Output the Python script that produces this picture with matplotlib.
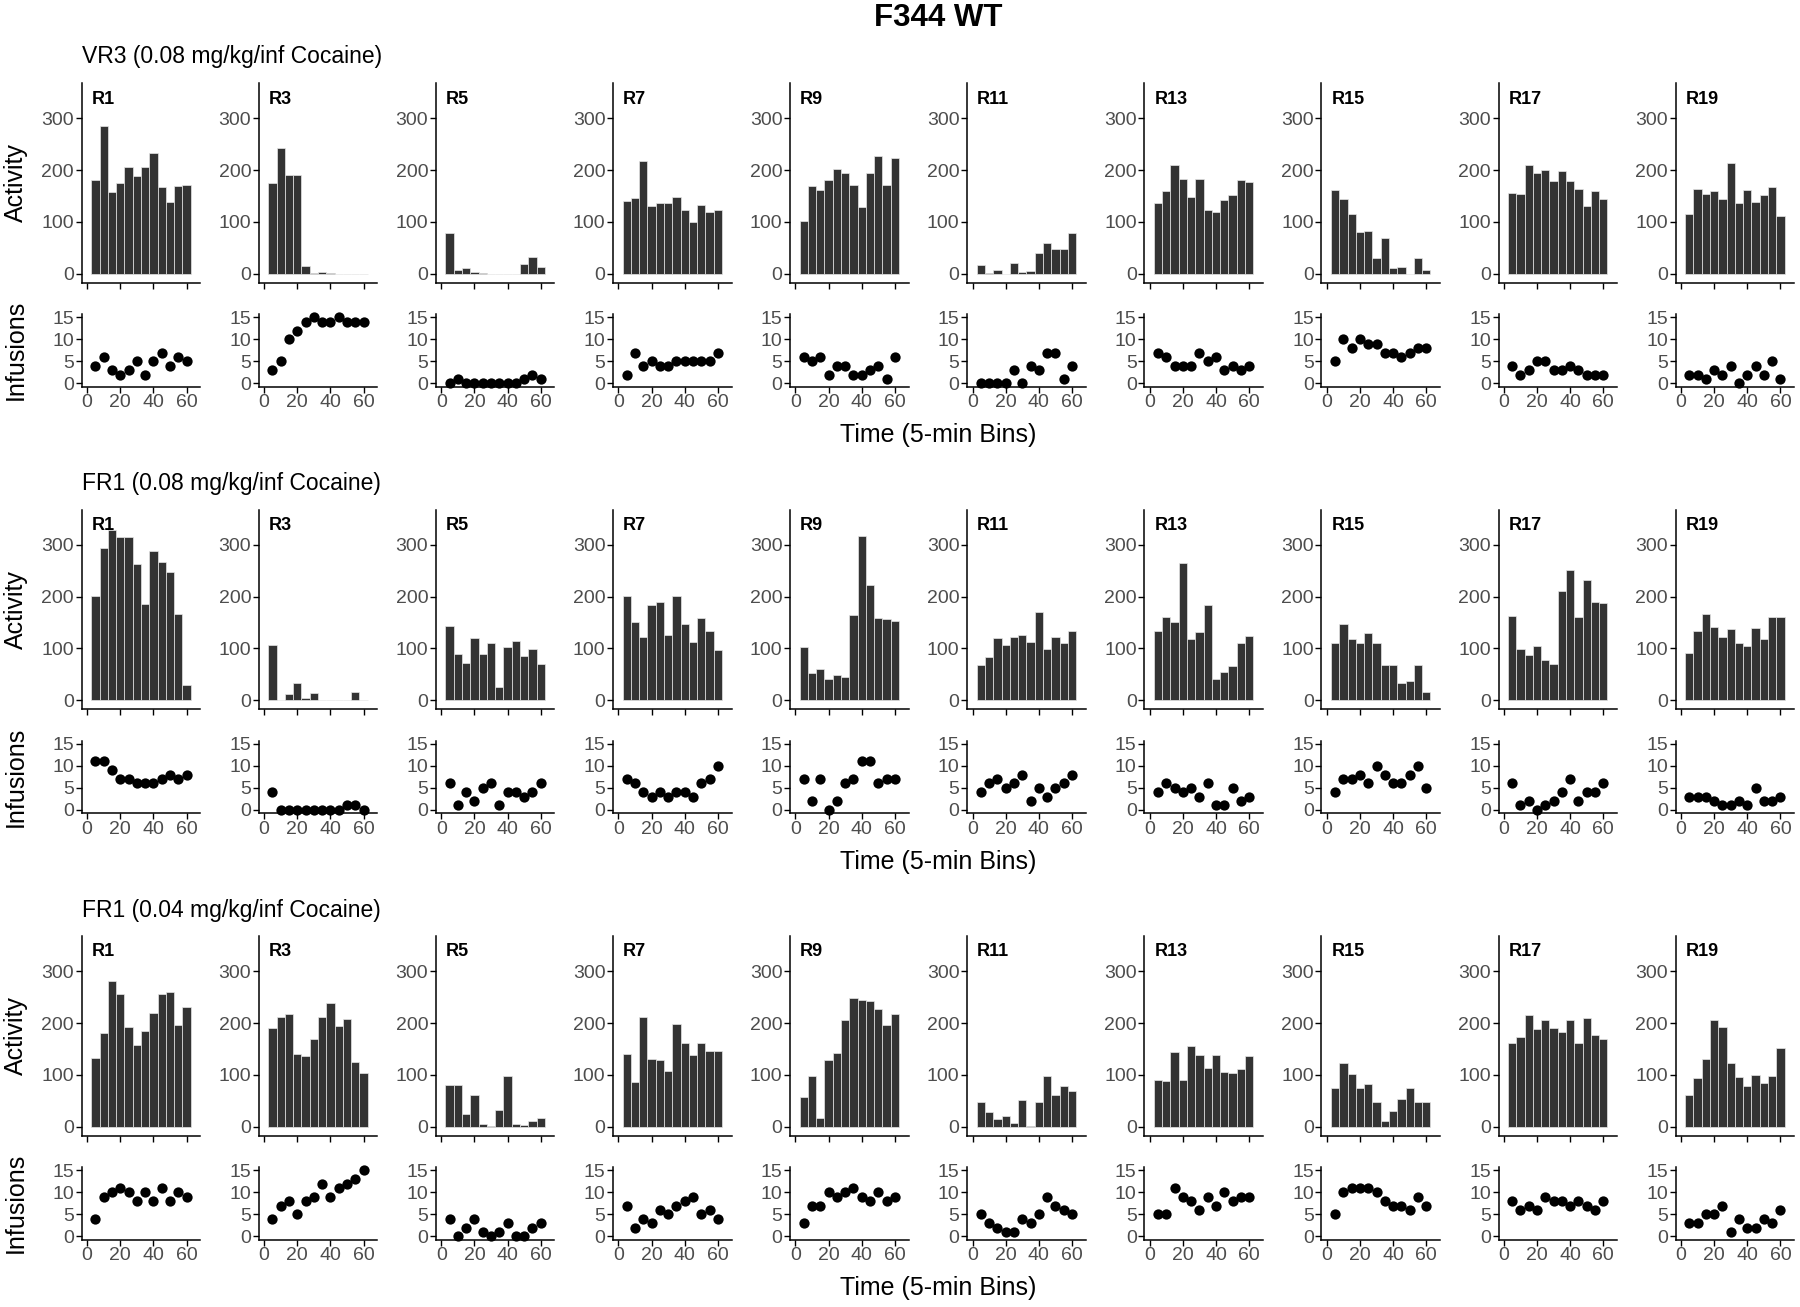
import matplotlib
matplotlib.use("Agg")
import matplotlib.pyplot as plt

plt.rcParams['font.family'] = ['Liberation Sans', 'DejaVu Sans']

# ---------------- data ----------------
time_bins = [5, 10, 15, 20, 25, 30, 35, 40, 45, 50, 55, 60]
rats = ['R1', 'R3', 'R5', 'R7', 'R9', 'R11', 'R13', 'R15', 'R17', 'R19']
section_titles = ['VR3 (0.08 mg/kg/inf Cocaine)',
                  'FR1 (0.08 mg/kg/inf Cocaine)',
                  'FR1 (0.04 mg/kg/inf Cocaine)']
main_title = 'F344 WT'
x_title = 'Time (5-min Bins)'
act_title = 'Activity'
inf_title = 'Infusions'

vr3_008_activity = [
    [180, 285, 158, 175, 205, 188, 205, 232, 167, 138, 170, 172],
    [175, 243, 191, 191, 15, 2, 3, 1, 0, 0, 0, 0],
    [78, 7, 10, 3, 1, 0, 0, 0, 0, 18, 32, 12],
    [140, 146, 217, 130, 137, 137, 148, 122, 100, 133, 119, 123],
    [102, 170, 161, 180, 202, 194, 172, 129, 194, 228, 171, 223],
    [17, 1, 7, 0, 20, 3, 6, 40, 60, 47, 48, 78],
    [137, 160, 209, 183, 148, 182, 122, 119, 143, 151, 180, 177],
    [161, 145, 115, 81, 83, 30, 68, 10, 12, 0, 30, 7],
    [155, 153, 209, 194, 201, 178, 198, 178, 164, 131, 159, 145],
    [116, 163, 153, 159, 145, 213, 137, 161, 139, 151, 167, 111],
]
vr3_008_infusions = [
    [4, 6, 3, 2, 3, 5, 2, 5, 7, 4, 6, 5],
    [3, 5, 10, 12, 14, 15, 14, 14, 15, 14, 14, 14],
    [0, 1, 0, 0, 0, 0, 0, 0, 0, 1, 2, 1],
    [2, 7, 4, 5, 4, 4, 5, 5, 5, 5, 5, 7],
    [6, 5, 6, 2, 4, 4, 2, 2, 3, 4, 1, 6],
    [0, 0, 0, 0, 3, 0, 4, 3, 7, 7, 1, 4],
    [7, 6, 4, 4, 4, 7, 5, 6, 3, 4, 3, 4],
    [5, 10, 8, 10, 9, 9, 7, 7, 6, 7, 8, 8],
    [4, 2, 3, 5, 5, 3, 3, 4, 3, 2, 2, 2],
    [2, 2, 1, 3, 2, 4, 0, 2, 4, 2, 5, 1],
]
fr1_008_activity = [
    [201, 293, 328, 315, 315, 262, 185, 287, 266, 247, 166, 29],
    [107, 1, 12, 34, 4, 13, 0, 1, 0, 1, 15, 0],
    [143, 89, 72, 120, 90, 111, 26, 102, 114, 86, 99, 70],
    [201, 150, 122, 183, 189, 125, 201, 147, 113, 159, 134, 97],
    [102, 53, 61, 40, 48, 45, 165, 317, 222, 159, 157, 152],
    [68, 83, 120, 107, 121, 126, 112, 170, 99, 121, 110, 134],
    [134, 161, 151, 264, 118, 131, 183, 40, 55, 66, 111, 124],
    [111, 147, 118, 110, 130, 110, 67, 68, 34, 37, 68, 15],
    [163, 99, 87, 105, 77, 69, 211, 251, 161, 232, 190, 188],
    [91, 133, 167, 142, 121, 138, 110, 104, 139, 118, 161, 161],
]
fr1_008_infusions = [
    [11, 11, 9, 7, 7, 6, 6, 6, 7, 8, 7, 8],
    [4, 0, 0, 0, 0, 0, 0, 0, 0, 1, 1, 0],
    [6, 1, 4, 2, 5, 6, 1, 4, 4, 3, 4, 6],
    [7, 6, 4, 3, 4, 3, 4, 4, 3, 6, 7, 10],
    [7, 2, 7, 0, 2, 6, 7, 11, 11, 6, 7, 7],
    [4, 6, 7, 5, 6, 8, 2, 5, 3, 5, 6, 8],
    [4, 6, 5, 4, 5, 3, 6, 1, 1, 5, 2, 3],
    [4, 7, 7, 8, 6, 10, 8, 6, 6, 8, 10, 5],
    [6, 1, 2, 0, 1, 2, 4, 7, 2, 4, 4, 6],
    [3, 3, 3, 2, 1, 1, 2, 1, 5, 2, 2, 3],
]
fr1_004_activity = [
    [133, 181, 281, 256, 193, 158, 185, 220, 256, 259, 196, 231],
    [191, 212, 218, 141, 136, 170, 212, 239, 195, 207, 125, 103],
    [80, 80, 25, 62, 5, 2, 33, 98, 5, 4, 11, 17],
    [140, 86, 211, 131, 128, 108, 199, 162, 138, 161, 147, 147],
    [58, 98, 17, 128, 143, 206, 248, 244, 243, 228, 196, 218],
    [48, 28, 14, 21, 7, 52, 2, 47, 98, 61, 78, 68],
    [90, 89, 145, 90, 155, 139, 114, 138, 106, 103, 112, 136],
    [75, 123, 101, 74, 83, 47, 11, 31, 53, 75, 47, 48],
    [162, 174, 215, 189, 206, 191, 183, 206, 161, 209, 176, 170],
    [61, 93, 130, 205, 192, 122, 95, 79, 100, 84, 98, 151],
]
fr1_004_infusions = [
    [4, 9, 10, 11, 10, 8, 10, 8, 11, 8, 10, 9],
    [4, 7, 8, 5, 8, 9, 12, 9, 11, 12, 13, 15],
    [4, 0, 2, 4, 1, 0, 1, 3, 0, 0, 2, 3],
    [7, 2, 4, 3, 6, 5, 7, 8, 9, 5, 6, 4],
    [3, 7, 7, 10, 9, 10, 11, 9, 8, 10, 8, 9],
    [5, 3, 2, 1, 1, 4, 3, 5, 9, 7, 6, 5],
    [5, 5, 11, 9, 8, 6, 9, 7, 10, 8, 9, 9],
    [5, 10, 11, 11, 11, 10, 8, 7, 7, 6, 9, 7],
    [8, 6, 7, 6, 9, 8, 8, 7, 8, 7, 6, 8],
    [3, 3, 5, 5, 7, 1, 4, 2, 2, 4, 3, 6],
]

activity_sets = [vr3_008_activity, fr1_008_activity, fr1_004_activity]
infusion_sets = [vr3_008_infusions, fr1_008_infusions, fr1_004_infusions]

# ---------------- layout ----------------
W, H = 1800, 1307
DPI = 100
fig = plt.figure(figsize=(W / DPI, H / DPI), dpi=DPI)

TICK_COL = '#4d4d4d'
TICK_SIZE = 14
BAR_COL = '#333333'


def add_ax(left, top, width, height):
    return fig.add_axes([left / W, 1 - (top + height) / H, width / W, height / H])


def style(ax):
    for s in ('top', 'right'):
        ax.spines[s].set_visible(False)
    for s in ('left', 'bottom'):
        ax.spines[s].set_linewidth(1.1)
        ax.spines[s].set_color('black')
    ax.tick_params(direction='out', length=4, width=1.0, color='black',
                   labelcolor=TICK_COL, labelsize=TICK_SIZE, pad=1.5)
    ax.set_facecolor('none')


SEC_DY = 426.5
COL_DX = 177.1
PANEL_W = 118.5

fig.text(938 / W, 1 - 18 / H, main_title, ha='center', va='center',
         fontsize=22.5, fontweight='bold')

for s in range(3):
    dy = SEC_DY * s
    fig.text(82 / W, 1 - (57 + dy) / H, section_titles[s], ha='left', va='center',
             fontsize=16.5)
    fig.text(938 / W, 1 - (435 + dy) / H, x_title, ha='center', va='center',
             fontsize=18)
    fig.text(16 / W, 1 - (183 + dy) / H, act_title, ha='center', va='center',
             rotation=90, fontsize=18)
    fig.text(16 / W, 1 - (350 + dy) / H, inf_title, ha='center', va='center',
             rotation=90, fontsize=18)

    for j, rat in enumerate(rats):
        left = 81.7 + COL_DX * j
        # activity panel
        ax = add_ax(left, 83.3 + dy, PANEL_W, 199.4)
        ax.bar(time_bins, activity_sets[s][j], width=5, color=BAR_COL,
               edgecolor='#e6e6e6', linewidth=0.5)
        ax.set_xlim(-3.25, 68.25)
        ax.set_ylim(-17.5, 367.5)
        ax.set_xticks([0, 20, 40, 60])
        ax.set_xticklabels([])
        ax.set_yticks([0, 100, 200, 300])
        style(ax)
        ax.text(10 / PANEL_W, 1 - 15.7 / 199.4, rat, transform=ax.transAxes,
                ha='left', va='center', fontsize=13, fontweight='bold')

        # infusion panel
        bx = add_ax(left, 314 + dy, PANEL_W, 72.7)
        bx.scatter(time_bins, infusion_sets[s][j], s=55, color='black',
                   zorder=3, clip_on=False, linewidths=0)
        bx.set_xlim(-3.25, 68.25)
        bx.set_ylim(-0.75, 15.75)
        bx.set_xticks([0, 20, 40, 60])
        bx.set_yticks([0, 5, 10, 15])
        style(bx)

fig.savefig('out.png', dpi=DPI)
